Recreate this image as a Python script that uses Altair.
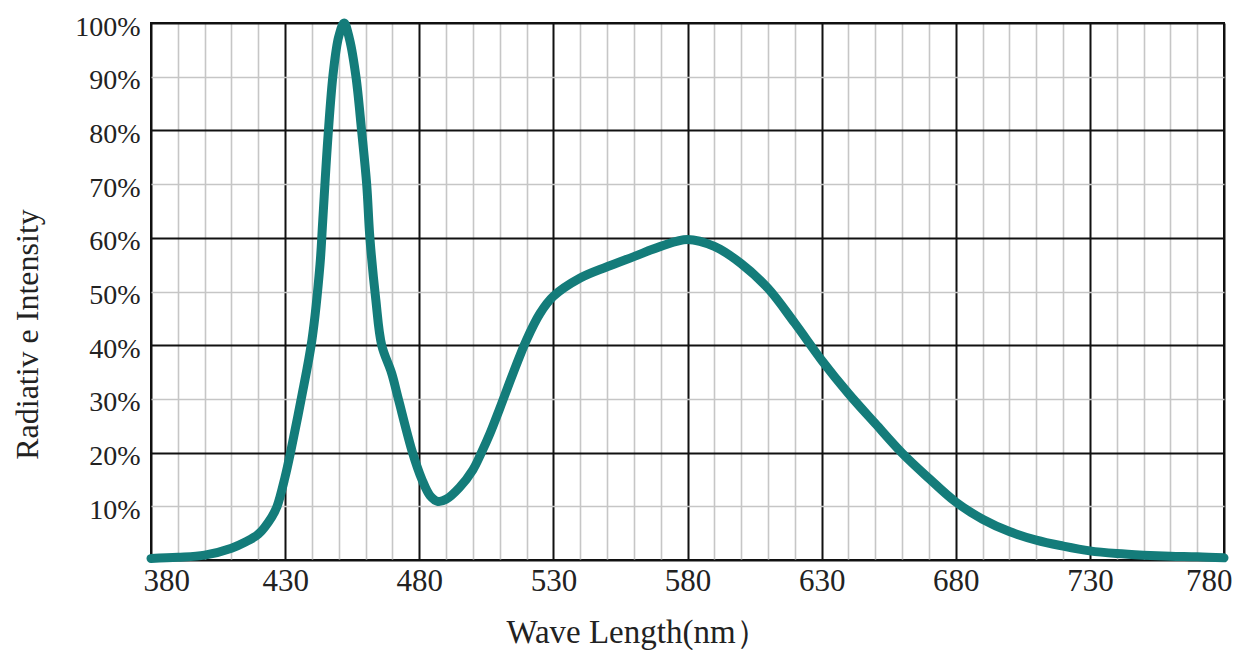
import altair as alt
import pandas as pd

wavelength = [380, 390, 400, 410, 415, 420, 425, 427, 430, 432, 436, 440, 443, 444, 446,
              448, 450, 452, 454, 456.4, 458.5, 460.4, 461.6, 463.8, 466, 469.7, 472.2,
              477.5, 481, 484, 487, 490, 495, 500, 503, 506.4, 510, 515, 520, 525, 530, 540,
              550, 560, 570, 580, 590, 600, 610, 620, 630, 640, 650, 660, 670, 680, 690,
              700, 710, 720, 730, 740, 750, 760, 770, 780]
intensity = [0.3, 0.5, 0.9, 2.2, 3.3, 4.8, 8.0, 10.0, 15.5, 20.0, 30.0, 41.0, 55.0, 63.0, 79.0,
             91.0, 97.5, 100.0, 97.0, 90.0, 80.0, 70.0, 60.0, 48.5, 40.0, 34.8, 30.0,
             20.0, 15.0, 12.0, 10.9, 11.3, 13.5, 16.8, 19.8, 23.6, 28.2, 34.8, 41.0, 45.9, 49.1, 52.5,
             54.6, 56.5, 58.4, 59.7, 58.4, 55.2, 50.6, 44.1, 37.2, 31.0, 25.4, 19.9, 15.2, 10.8, 7.6,
             5.3, 3.7, 2.6, 1.7, 1.2, 0.9, 0.7, 0.6, 0.4]

x_ticks = list(range(380, 781, 10))
y_ticks = list(range(0, 101, 10))

df = pd.DataFrame({"wl": wavelength, "val": intensity})

FONT = "Liberation Serif"

x_axis = alt.Axis(
    values=x_ticks,
    labelExpr="(datum.value - 380) % 50 === 0 ? datum.value : ''",
    labelFont=FONT, labelFontSize=31, labelColor="#222", labelPadding=6,
    labelFlush=True, labelFlushOffset=8,
    ticks=False, tickSize=0, domain=False,
    grid=True,
    gridColor={"condition": {"test": "(datum.value - 380) % 50 === 0", "value": "#111111"}, "value": "#c6c6c6"},
    gridWidth={"condition": {"test": "(datum.value - 380) % 50 === 0", "value": 2}, "value": 1.6},
    title="Wave Length(nm）",
    titleFont=FONT, titleFontSize=33, titleFontWeight="normal", titleColor="#222",
    titleX=486, titleY=82, titleBaseline="alphabetic", titleAlign="center",
)

y_axis = alt.Axis(
    values=y_ticks,
    labelExpr="datum.value === 0 ? '' : datum.value + '%'",
    labelFont=FONT, labelFontSize=28, labelColor="#222", labelPadding=11,
    labelBaseline="middle", labelOffset=4,
    ticks=False, tickSize=0, domain=False,
    grid=True,
    gridColor={"condition": {"test": "datum.value % 20 === 0", "value": "#111111"}, "value": "#c6c6c6"},
    gridWidth={"condition": {"test": "datum.value % 20 === 0", "value": 2}, "value": 1.6},
    title="Radiativ e Intensity",
    titleFont=FONT, titleFontSize=32, titleFontWeight="normal", titleColor="#222",
    titleAngle=-90, titleX=-114, titleY=311, titleBaseline="alphabetic", titleAlign="center",
)

chart = alt.Chart(df).mark_line(
    color="#147c7a", strokeWidth=9, interpolate="catmull-rom", strokeCap="round"
).encode(
    x=alt.X("wl:Q", scale=alt.Scale(domain=[380, 780], nice=False, zero=False), axis=x_axis),
    y=alt.Y("val:Q", scale=alt.Scale(domain=[0, 100], nice=False), axis=y_axis),
).properties(
    width=1073, height=537,
    autosize=alt.AutoSizeParams(type="none"),
    padding={"left": 143, "top": 15, "right": 8, "bottom": 90},
    background="white",
).configure_view(stroke="#111111", strokeWidth=2)

chart.save("out.html", embed_options={"renderer": "svg", "actions": False})
